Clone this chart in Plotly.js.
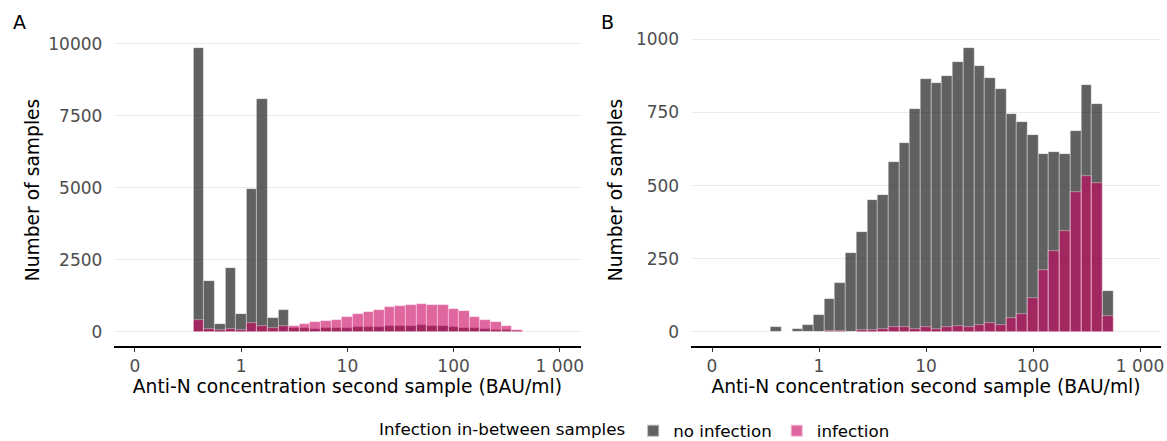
<!DOCTYPE html>
<html>
<head>
<meta charset="utf-8">
<script src="https://cdn.plot.ly/plotly-3.0.1.min.js"></script>
<style>html,body{margin:0;padding:0;background:#fff;}</style>
</head>
<body>
<div id="chart" style="width:1167px;height:441px;"></div>
<script>
// Bin centres on the log10(BAU/ml) scale (bin width 0.1 decade)
const binLog10A = [-0.4,-0.3,-0.2,-0.1,0.0,0.1,0.2,0.3,0.4,0.5,0.6,0.7,0.8,0.9,1.0,1.1,1.2,1.3,1.4,1.5,1.6,1.7,1.8,1.9,2.0,2.1,2.2,2.3,2.4,2.5,2.6];
const binLog10B = [-0.4,-0.3,-0.2,-0.1,0.0,0.1,0.2,0.3,0.4,0.5,0.6,0.7,0.8,0.9,1.0,1.1,1.2,1.3,1.4,1.5,1.6,1.7,1.8,1.9,2.0,2.1,2.2,2.3,2.4,2.5,2.6,2.7];

// Panel A counts
const noInfectionA = [9850,1750,265,2200,615,4950,8080,475,745,140,140,115,130,140,150,165,175,185,210,220,220,230,220,210,185,150,130,105,80,60,20];
const infectionA   = [395,115,60,115,70,300,220,130,200,220,255,325,360,395,520,615,685,755,850,880,920,975,920,940,800,710,510,405,325,220,80];

// Panel B counts
const noInfectionB = [17,1,9,23,56,112,168,270,341,450,469,580,646,761,865,852,876,922,970,908,869,830,744,716,674,608,615,607,688,843,778,139];
const infectionB   = [0,0,0,0,0,3,3,1,6,6,9,16,17,9,16,11,15,21,18,24,30,22,47,61,117,211,275,345,478,534,509,55];

// Axis ticks
const xTickVals = [-1,0,1,2,3];
const xTickText = ['0','1','10','100','1 000'];
const yTickValsA = [0,2500,5000,7500,10000];
const yTickTextA = ['0','2500','5000','7500','10000'];
const yTickValsB = [0,250,500,750,1000];
const yTickTextB = ['0','250','500','750','1000'];

const seriesNames = ['no infection','infection'];
const legendTitle = 'Infection in-between samples';
const xTitle = 'Anti-N concentration second sample (BAU/ml)';
const yTitle = 'Number of samples';

const W = 1167, H = 441;
const grayFill = 'rgba(0,0,0,0.62)';
const pinkFill = 'rgba(203,0,95,0.6)';
const outline = {color:'rgba(255,255,255,0.55)', width:0.7};

function barTrace(x, y, name, color, xa, ya, show){
  return {type:'bar', x:x, y:y, name:name, width:0.1, xaxis:xa, yaxis:ya,
    marker:{color:color, line:outline}, legendgroup:name, showlegend:show,
    hovertemplate:'%{y}<extra>'+name+'</extra>'};
}

const data = [
  barTrace(binLog10A, noInfectionA, seriesNames[0], grayFill, 'x', 'y', true),
  barTrace(binLog10A, infectionA, seriesNames[1], pinkFill, 'x', 'y', true),
  barTrace(binLog10B, noInfectionB, seriesNames[0], grayFill, 'x2', 'y2', false),
  barTrace(binLog10B, infectionB, seriesNames[1], pinkFill, 'x2', 'y2', false)
];

const tickFont = {family:'DejaVu Sans, sans-serif', size:17, color:'#4D4D4D'};
const titleFont = {family:'DejaVu Sans, sans-serif', size:18.7, color:'#000'};

function xAxis(dom, anchor){
  return {domain:dom, anchor:anchor, range:[-1.2,3.2], tickmode:'array', tickvals:xTickVals, ticktext:xTickText,
    showline:true, linecolor:'#000', linewidth:2, ticks:'outside', ticklen:4, tickwidth:1, tickcolor:'#333',
    showgrid:false, zeroline:false, tickfont:tickFont, fixedrange:true,
    title:{text:xTitle, font:titleFont, standoff:1}};
}
function yAxis(dom, anchor, range, vals, text, standoff){
  return {domain:dom, anchor:anchor, range:range, tickmode:'array', tickvals:vals, ticktext:text,
    showline:false, ticks:'outside', ticklen:7, tickcolor:'rgba(0,0,0,0)',
    showgrid:true, gridcolor:'#EBEBEB', gridwidth:1.1, zeroline:false, tickfont:tickFont, fixedrange:true,
    title:{text:yTitle, font:titleFont, standoff:standoff}};
}

const yDom = [(H-346)/H, (H-34)/H];
const layout = {
  width:W, height:H, margin:{l:0,r:0,t:0,b:0, autoexpand:false},
  paper_bgcolor:'#fff', plot_bgcolor:'#fff',
  barmode:'overlay', bargap:0,
  font:{family:'DejaVu Sans, sans-serif', color:'#000'},
  xaxis: xAxis([113.75/W, 581/W], 'y'),
  yaxis: yAxis(yDom, 'x', [-492,10342], yTickValsA, yTickTextA, 3),
  xaxis2: xAxis([690.6/W, 1161.4/W], 'y2'),
  yaxis2: yAxis(yDom, 'x2', [-48.5,1018.5], yTickValsB, yTickTextB, 8),
  legend:{orientation:'h', x:0.545, xanchor:'center', y:(H-431)/H, yanchor:'middle',
    title:{text:legendTitle, side:'left', font:{size:16.7, color:'#000'}},
    font:{size:16.7, color:'#000'}, itemsizing:'constant', bgcolor:'rgba(0,0,0,0)'},
  annotations:[
    {text:'A', xref:'paper', yref:'paper', x:19/W, y:(H-22)/H, xanchor:'center', yanchor:'middle', showarrow:false, font:{size:19, color:'#000'}},
    {text:'B', xref:'paper', yref:'paper', x:607/W, y:(H-22)/H, xanchor:'center', yanchor:'middle', showarrow:false, font:{size:19, color:'#000'}}
  ]
};

Plotly.newPlot('chart', data, layout, {displayModeBar:false, staticPlot:false});
</script>
</body>
</html>
